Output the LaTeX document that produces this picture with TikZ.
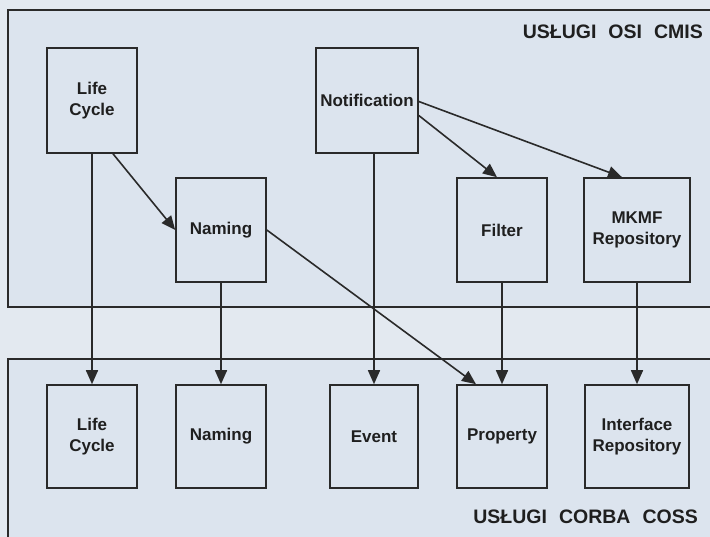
\documentclass[tikz,border=0pt]{standalone}
\usepackage{fontspec}
\setmainfont{Liberation Sans}
\usetikzlibrary{arrows.meta,calc}
\definecolor{bgc}{HTML}{E3E9F0}
\definecolor{panelc}{HTML}{DCE4EE}
\definecolor{linec}{HTML}{2A2A2A}
\tikzset{
  svc/.style={draw=linec, line width=1.6pt, fill=panelc, inner sep=0pt, align=center,
    font=\fontsize{17}{20.5}\selectfont\bfseries, text=black!88},
  panel/.style={draw=linec, line width=1.6pt, fill=panelc},
  conn/.style={draw=linec, line width=1.6pt, -{Triangle[length=14pt,width=12pt]}},
  ttl/.style={font=\fontsize{19.5}{23}\selectfont\bfseries, text=black!88, inner sep=0pt}
}
\begin{document}
\begin{tikzpicture}[x=1pt,y=-1pt]
\useasboundingbox (0,0) rectangle (710,537);
\fill[bgc] (0,0) rectangle (710,537);
\begin{scope}
\clip (0,0) rectangle (710,537);
\draw[panel] (8,10) rectangle (730,307);
\draw[panel] (8,359) rectangle (730,560);
\end{scope}
\node[ttl, anchor=east] (t1) at (703,32) {USŁUGI\hspace{12pt}OSI\hspace{12pt}CMIS};
\node[ttl, anchor=east] (t2) at (698,517) {USŁUGI\hspace{12pt}CORBA\hspace{12pt}COSS};
% top row
\node[svc, minimum width=90pt, minimum height=105pt] (lc1) at (92,100.5) {Life\\Cycle};
\node[svc, minimum width=102pt, minimum height=105pt] (notif) at (367,100.5) {Notification};
% middle row
\node[svc, minimum width=90pt, minimum height=104pt] (nam1) at (221,230) {Naming};
\node[svc, minimum width=90pt, minimum height=104pt] (fil) at (502,230) {Filter};
\node[svc, minimum width=106pt, minimum height=104pt] (mkmf) at (637,230) {MKMF\\Repository};
% bottom row
\node[svc, minimum width=90pt, minimum height=103pt] (lc2) at (92,436.5) {Life\\Cycle};
\node[svc, minimum width=90pt, minimum height=103pt] (nam2) at (221,436.5) {Naming};
\node[svc, minimum width=88pt, minimum height=103pt] (ev) at (374,436.5) {Event};
\node[svc, minimum width=90pt, minimum height=103pt] (prop) at (502,436.5) {Property};
\node[svc, minimum width=104pt, minimum height=103pt] (intf) at (637,436.5) {Interface\\Repository};
% connectors
\draw[conn] (lc1.south) -- (lc1.south |- lc2.north);
\draw[conn] ($(lc1.south)+(21,0)$) -- (nam1.west);
\draw[conn] (nam1.south) -- (nam1.south |- nam2.north);
\draw[conn] (nam1.east) -- ($(prop.north)+(-26,0)$);
\draw[conn] (ev.north |- notif.south) -- (ev.north);
\draw[conn] ($(notif.east)+(0,15)$) -- ($(fil.north)+(-5,0)$);
\draw[conn] ($(notif.east)+(0,1)$) -- ($(mkmf.north)+(-15,0)$);
\draw[conn] (fil.south) -- (fil.south |- prop.north);
\draw[conn] (mkmf.south) -- (mkmf.south |- intf.north);
\end{tikzpicture}
\end{document}
